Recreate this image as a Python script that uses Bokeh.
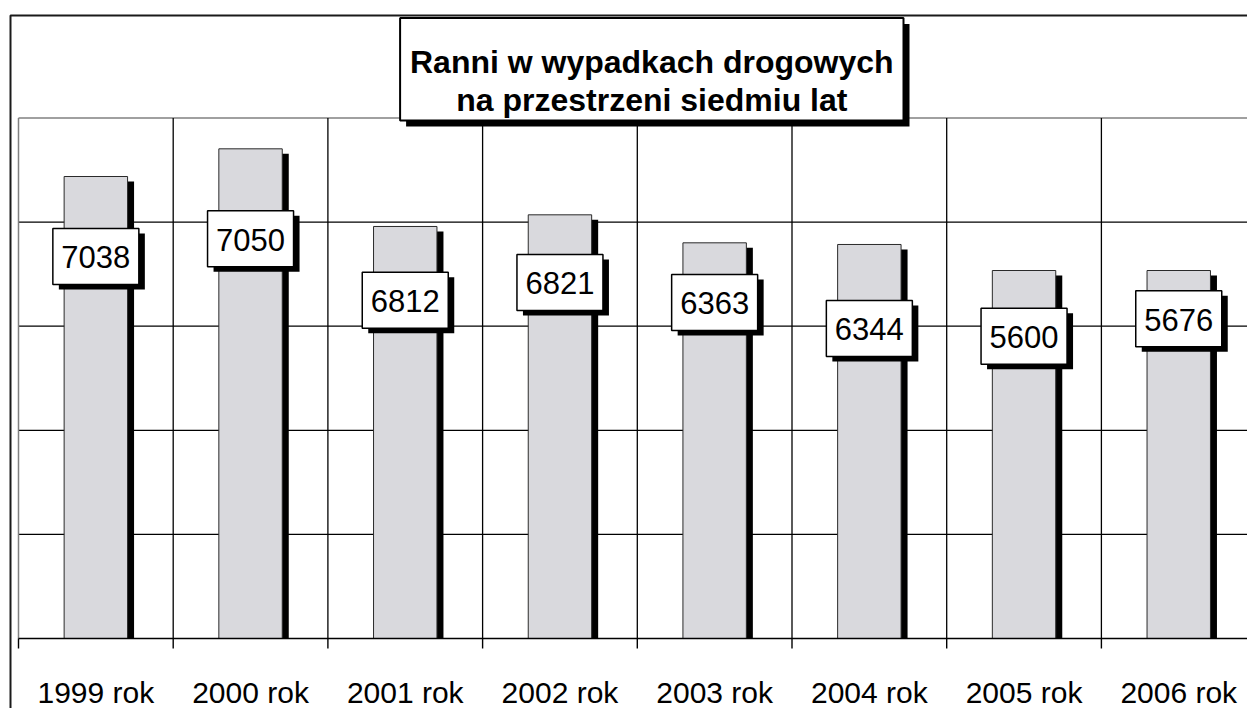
from bokeh.plotting import figure
from bokeh.models import Range1d
from bokeh.core.properties import value
from bokeh.embed import file_html
from bokeh.resources import INLINE

# ---------------- data ----------------
years = ["1999 rok", "2000 rok", "2001 rok", "2002 rok",
         "2003 rok", "2004 rok", "2005 rok", "2006 rok"]
injured = [7038, 7050, 6812, 6821, 6363, 6344, 5600, 5676]          # value labels
bar_heights = [4438, 4704, 3958, 4070, 3801, 3785, 3535, 3535]     # drawn bar heights (axis 0-5000)
label_y = [3670, 3840, 3250, 3420, 3228, 2978, 2903, 3071]         # label anchor (axis units)
title_lines = ["Ranni w wypadkach drogowych", "na przestrzeni siedmiu lat"]
grid_values = [1000, 2000, 3000, 4000]
y_max = 5000

# ---------------- layout ----------------
W, H = 1247, 708
X0, CW = 18.0, 154.7      # px of x=0, px per category
Y0, K = 638.0, 0.1041     # px of y=0, px per unit

def fx(px):
    return (px - X0) / CW

def fy(px):
    return (Y0 - px) / K

def dx(px):
    return px / CW

def dy(px):
    return px / K

FONT = value("Liberation Sans")

p = figure(width=W, height=H, output_backend="svg", toolbar_location=None,
           x_range=Range1d(fx(0), fx(W)), y_range=Range1d(fy(H), fy(0)),
           x_axis_location=None, y_axis_location=None, min_border=0)
p.grid.visible = False
p.outline_line_color = None
p.background_fill_color = "white"
p.border_fill_color = "white"

n = len(years)
centers = [i + 0.5 for i in range(n)]

# outer frame
p.line(x=[fx(10), fx(10), fx(W + 5)], y=[fy(H + 5), fy(15), fy(15)],
       line_color="#1a1a1a", line_width=2)

# grid
for v in grid_values:
    p.line(x=[0, n], y=[v, v], line_color="black", line_width=1.3)
p.line(x=[0, n], y=[y_max, y_max], line_color="#808080", line_width=1.5)
p.line(x=[0, 0], y=[0, y_max], line_color="#808080", line_width=1.5)
for i in range(1, n):
    p.line(x=[i, i], y=[0, y_max], line_color="black", line_width=1.3)

# bars with shadows
bw = 0.41
p.vbar(x=[c + dx(6.5) for c in centers], top=[b - dy(5) for b in bar_heights],
       bottom=0, width=bw, fill_color="black", line_color=None)
p.vbar(x=centers, top=bar_heights, bottom=0, width=bw,
       fill_color="#d9d9dd", line_color="#2a2a2a", line_width=1)

# axis line + ticks
p.line(x=[0, n], y=[0, 0], line_color="black", line_width=1.6)
p.segment(x0=list(range(n + 1)), x1=list(range(n + 1)),
          y0=[0] * (n + 1), y1=[-dy(10)] * (n + 1), line_color="black", line_width=1.4)

# value labels
lw, lh = dx(86), dy(56)
p.rect(x=[c + dx(6) for c in centers], y=[v - dy(5) for v in label_y],
       width=lw, height=lh, fill_color="black", line_color=None)
p.rect(x=centers, y=label_y, width=lw, height=lh,
       fill_color="white", line_color="black", line_width=1.5)
p.text(x=centers, y=label_y, text=[str(v) for v in injured],
       text_font=FONT, text_font_size="31px", text_align="center",
       text_baseline="middle", text_color="black", y_offset=1)

# title box
tl, tr, tt, tb = fx(399.6), fx(903), fy(17.5), fy(120)
p.quad(left=tl + dx(6), right=tr + dx(6), top=tt - dy(6), bottom=tb - dy(6),
       fill_color="black", line_color=None)
p.quad(left=tl, right=tr, top=tt, bottom=tb,
       fill_color="white", line_color="black", line_width=2)
tcx = (tl + tr) / 2
p.text(x=[tcx, tcx], y=[fy(61), fy(99)], text=title_lines,
       text_font=FONT, text_font_size="32px", text_font_style="bold",
       text_align="center", text_baseline="alphabetic", text_color="black")

# category labels
p.text(x=centers, y=[fy(692)] * n, text=years,
       text_font=FONT, text_font_size="30px", text_align="center",
       text_baseline="alphabetic", text_color="black")

open("out.html", "w").write(file_html(p, INLINE))
